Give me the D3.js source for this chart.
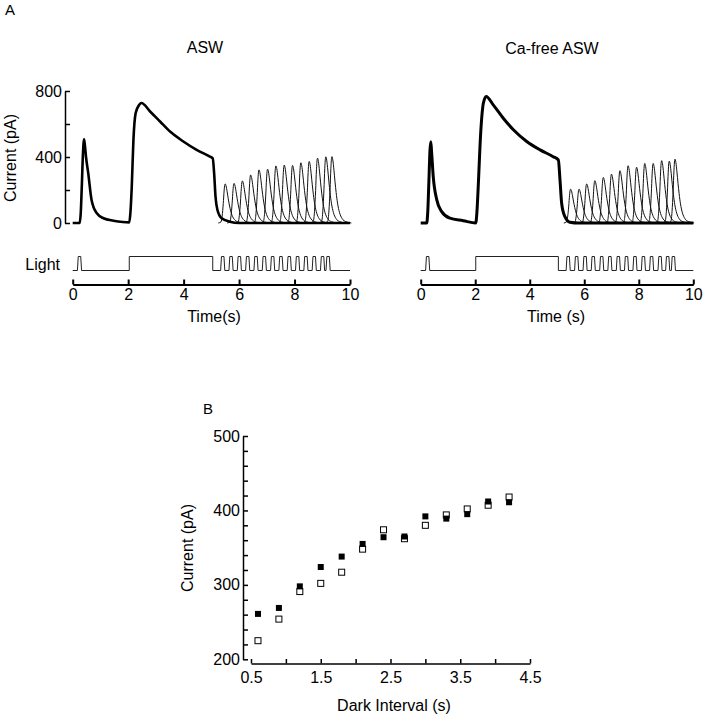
<!DOCTYPE html>
<html>
<head>
<meta charset="utf-8">
<script src="https://cdn.jsdelivr.net/npm/d3@7"></script>
<style>
  body { margin: 0; background: #fff; }
  svg text { font-family: "Liberation Sans", Arial, Helvetica, sans-serif; fill: #000; }
</style>
</head>
<body>
<svg id="chart" width="703" height="720"></svg>
<script>
// ---------------- DATA ----------------
const timeTicks = [0, 2, 4, 6, 8, 10];
const currentTicks = [0, 200, 400, 600, 800];
const currentLabels = [0, 400, 800];

// Main (thick) current traces, time in s, current in pA
const aswTraceT = [0, 0.25, 0.29, 0.33, 0.37, 0.41, 0.44, 0.48, 0.56, 0.68, 0.87, 1.11, 1.47, 1.8, 2.04, 2.08, 2.13, 2.19, 2.27, 2.40, 2.48, 2.79, 3.15, 3.51, 3.99, 4.47, 4.95, 5.05, 5.10, 5.15, 5.22, 5.37, 5.67, 6.0, 10];
const aswTraceI = [0, 0, 60, 230, 420, 508, 470, 400, 302, 140, 59, 29, 14, 6, 4, 60, 220, 504, 666, 716, 727, 676, 615, 554, 494, 443, 402, 392, 302, 160, 79, 29, 8, 0, 0];

const caTraceT = [0, 0.22, 0.26, 0.30, 0.34, 0.37, 0.40, 0.46, 0.59, 0.77, 1.07, 1.56, 2.02, 2.06, 2.11, 2.2, 2.3, 2.40, 2.66, 3.03, 3.4, 3.89, 4.38, 4.86, 5.05, 5.11, 5.17, 5.29, 5.47, 5.8, 10];
const caTraceI = [0, 0, 70, 250, 440, 493, 430, 281, 140, 69, 29, 14, 0, 60, 220, 544, 727, 767, 716, 635, 565, 494, 443, 402, 382, 261, 120, 38, 5, 0, 0];

// Test-flash responses (thin traces): peak time (s) and peak current (pA)
const aswTestPeakT = [5.50, 5.82, 6.12, 6.42, 6.72, 7.03, 7.33, 7.63, 7.93, 8.23, 8.53, 8.83, 9.13, 9.35];
const aswTestPeakI = [237, 240, 255, 291, 322, 326, 346, 351, 349, 365, 373, 393, 401, 402];
const caTestPeakT = [5.50, 5.81, 6.09, 6.39, 6.70, 7.00, 7.31, 7.61, 7.92, 8.22, 8.53, 8.84, 9.12, 9.33];
const caTestPeakI = [205, 205, 237, 257, 276, 296, 317, 347, 338, 361, 361, 378, 375, 387];

// Shape of one test response (time offset from its peak, fraction of its peak)
const testShapeDt   = [-0.25, -0.15, -0.11, -0.07, -0.04, -0.015, 0, 0.03, 0.07, 0.11, 0.15, 0.20, 0.27, 0.36, 0.50, 0.70];
const testShapeFrac = [0, 0.03, 0.18, 0.50, 0.82, 0.98, 1, 0.95, 0.80, 0.62, 0.46, 0.30, 0.16, 0.07, 0.02, 0];

// Light stimulus: first flash, step, and test-flash times (s)
const aswFirstFlashT = 0.245;
const caFirstFlashT = 0.255;
const stepOnT = [2.04, 2.02];
const stepOffT = [5.05, 5.05];
const aswFlashT = [5.41, 5.71, 6.01, 6.31, 6.61, 6.91, 7.21, 7.51, 7.81, 8.11, 8.41, 8.71, 9.01, 9.21];
const caFlashT  = [5.41, 5.72, 6.03, 6.33, 6.64, 6.94, 7.25, 7.55, 7.86, 8.17, 8.47, 8.78, 9.06, 9.27];
const flashShapeDt = [-0.075, -0.045, 0.045, 0.075];
const flashShapeLevel = [0, 1, 1, 0];

// Panel B
const darkInterval = [0.6, 0.9, 1.2, 1.5, 1.8, 2.1, 2.4, 2.7, 3.0, 3.3, 3.6, 3.9, 4.2];
const aswPeak = [261, 269, 298, 324, 338, 355, 364, 365, 392, 389, 395, 412, 411];
const caFreePeak = [225, 254, 291, 302, 317, 348, 374, 362, 380, 394, 402, 407, 418];
const bXTicks = [0.5, 1.0, 1.5, 2.0, 2.5, 3.0, 3.5, 4.0, 4.5];
const bXLabels = [0.5, 1.5, 2.5, 3.5, 4.5];
const bYTicks = d3.range(200, 501, 20);
const bYLabels = [200, 300, 400, 500];

// ---------------- DRAWING ----------------
const svg = d3.select("#chart");
const FONT = 16;

// scales panel A
const yA = d3.scaleLinear().domain([0, 800]).range([223, 91]);
const yLight = d3.scaleLinear().domain([0, 1]).range([270.5, 256.5]);
const xLeft = d3.scaleLinear().domain([0, 10]).range([72.7, 350]);
const xRight = d3.scaleLinear().domain([0, 10]).range([420.7, 693.3]);

function styleAxis(g, sw) {
  g.select(".domain").attr("stroke", "#000").attr("stroke-width", sw);
  g.selectAll(".tick line").attr("stroke", "#000").attr("stroke-width", sw);
  g.selectAll("text").attr("font-size", FONT).attr("fill", "#000")
    .attr("font-family", '"Liberation Sans", Arial, Helvetica, sans-serif');
}

function drawPanelA(x, traceT, traceI, peakT, peakI, firstFlashT, onT, offT, flashT, mainWidth) {
  const g = svg.append("g");
  const line = d3.line().x(d => x(d[0])).y(d => yA(d[1])).curveMonotoneX;
  const lineFn = d3.line().x(d => x(d[0])).y(d => yA(d[1])).curve(d3.curveMonotoneX);

  // test responses (thin)
  peakT.forEach((pt, i) => {
    const pts = testShapeDt.map((dt, j) => [pt + dt, testShapeFrac[j] * peakI[i]]);
    g.append("path").attr("d", lineFn(pts))
      .attr("fill", "none").attr("stroke", "#111").attr("stroke-width", 1);
  });

  // main trace (thick)
  const mainPts = traceT.map((t, i) => [t, traceI[i]]);
  g.append("path").attr("d", lineFn(mainPts))
    .attr("fill", "none").attr("stroke", "#000").attr("stroke-width", mainWidth)
    .attr("stroke-linejoin", "round");

  // light trace
  const lp = [[0, 0]];
  flashShapeDt.forEach((dt, j) => lp.push([firstFlashT + dt, flashShapeLevel[j]]));
  lp.push([onT, 0], [onT, 1], [offT, 1], [offT, 0]);
  flashT.forEach(ft => flashShapeDt.forEach((dt, j) => lp.push([ft + dt, flashShapeLevel[j]])));
  lp.push([10, 0]);
  const lightLine = d3.line().x(d => x(d[0])).y(d => yLight(d[1]));
  g.append("path").attr("d", lightLine(lp))
    .attr("fill", "none").attr("stroke", "#222").attr("stroke-width", 1);

  // time axis
  const ax = g.append("g").attr("transform", "translate(0,284.5)")
    .call(d3.axisBottom(x).tickValues(timeTicks).tickSizeInner(-5).tickSizeOuter(0).tickPadding(4.5));
  styleAxis(ax, 2);
}

drawPanelA(xLeft, aswTraceT, aswTraceI, aswTestPeakT, aswTestPeakI, aswFirstFlashT, stepOnT[0], stepOffT[0], aswFlashT, 2.6);
drawPanelA(xRight, caTraceT, caTraceI, caTestPeakT, caTestPeakI, caFirstFlashT, stepOnT[1], stepOffT[1], caFlashT, 3);

// current axis of panel A (left only)
const ayA = svg.append("g").attr("transform", "translate(65,0)")
  .call(d3.axisLeft(yA).tickValues(currentTicks).tickSizeInner(-5).tickSizeOuter(0).tickPadding(3)
    .tickFormat(d => currentLabels.includes(d) ? d : ""));
styleAxis(ayA, 1.5);

// texts panel A
svg.append("text").attr("x", 5).attr("y", 15).attr("font-size", 15).text("A");
svg.append("text").attr("x", 205).attr("y", 53).attr("text-anchor", "middle").attr("font-size", FONT).text("ASW");
svg.append("text").attr("x", 552).attr("y", 54).attr("text-anchor", "middle").attr("font-size", FONT).text("Ca-free ASW");
svg.append("text").attr("transform", "translate(16,158) rotate(-90)").attr("text-anchor", "middle").attr("font-size", FONT).text("Current (pA)");
svg.append("text").attr("x", 60).attr("y", 270).attr("text-anchor", "end").attr("font-size", FONT).text("Light");
svg.append("text").attr("x", 214).attr("y", 322).attr("text-anchor", "middle").attr("font-size", FONT).text("Time(s)");
svg.append("text").attr("x", 556).attr("y", 322).attr("text-anchor", "middle").attr("font-size", FONT).text("Time (s)");

// ---------------- Panel B ----------------
const xB = d3.scaleLinear().domain([0.5, 4.5]).range([251, 530]);
const yB = d3.scaleLinear().domain([200, 500]).range([659.3, 436]);

const bxAxis = svg.append("g").attr("transform", "translate(0,663.5)")
  .call(d3.axisBottom(xB).tickValues(bXTicks).tickSizeInner(-4.5).tickSizeOuter(0).tickPadding(8)
    .tickFormat(d => bXLabels.includes(d) ? d3.format(".1f")(d) : ""));
styleAxis(bxAxis, 1.5);

const byAxis = svg.append("g").attr("transform", "translate(243,0)")
  .call(d3.axisLeft(yB).tickValues(bYTicks).tickSizeInner(-5).tickSizeOuter(0).tickPadding(3)
    .tickFormat(d => bYLabels.includes(d) ? d : ""));
styleAxis(byAxis, 1.5);

const S = 6;
svg.append("g").selectAll("rect.open").data(darkInterval).join("rect")
  .attr("x", (d) => xB(d) - S / 2).attr("y", (d, i) => yB(caFreePeak[i]) - S / 2)
  .attr("width", S).attr("height", S).attr("fill", "#fff").attr("stroke", "#000").attr("stroke-width", 1);
svg.append("g").selectAll("rect.filled").data(darkInterval).join("rect")
  .attr("x", (d) => xB(d) - S / 2).attr("y", (d, i) => yB(aswPeak[i]) - S / 2)
  .attr("width", S).attr("height", S).attr("fill", "#000");

svg.append("text").attr("x", 203).attr("y", 414).attr("font-size", 15).text("B");
svg.append("text").attr("transform", "translate(193,548) rotate(-90)").attr("text-anchor", "middle").attr("font-size", FONT).text("Current (pA)");
svg.append("text").attr("x", 394).attr("y", 711).attr("text-anchor", "middle").attr("font-size", FONT).text("Dark Interval (s)");
</script>
</body>
</html>
